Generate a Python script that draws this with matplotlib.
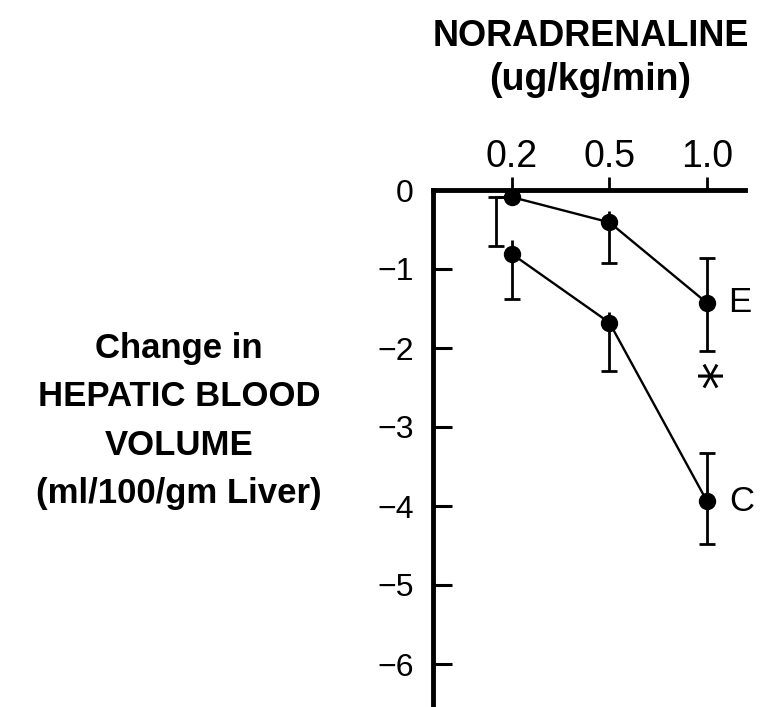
import matplotlib
matplotlib.use("Agg")
import matplotlib.pyplot as plt
import numpy as np

plt.rcParams['font.family'] = ['Liberation Sans', 'DejaVu Sans']

# ---- data ----
doses = ["0.2", "0.5", "1.0"]
y_ticks = [0, -1, -2, -3, -4, -5, -6]
y_tick_labels = ["0", "\u22121", "\u22122", "\u22123", "\u22124", "\u22125", "\u22126"]

E_mean = [-0.09, -0.41, -1.43]
E_err_low = [0.62, 0.51, 0.61]
E_err_up_capped = [0.0, 0.0, 0.57]
E_err_up_stub = [0.0, 0.15, 0.0]

C_mean = [-0.81, -1.68, -3.94]
C_err_low = [0.57, 0.61, 0.54]
C_err_up_capped = [0.0, 0.0, 0.61]
C_err_up_stub = [0.18, 0.14, 0.0]

# ---- figure ----
W, H = 767, 707
fig = plt.figure(figsize=(W / 100, H / 100), dpi=100)
left_px, right_px, top_px = 433, 745, 190
ax = fig.add_axes([left_px / W, 0.0, (right_px - left_px) / W, 1 - top_px / H])

x = np.arange(len(doses))
lw = 1.7
elw = 2.0
msize = 11.5
cap = 6

def draw_series(mean, low, upc, stub, first_offset=0.0):
    ax.plot(x, mean, color='black', lw=lw, zorder=2)
    xe = x.astype(float).copy()
    xe[0] += first_offset
    ax.errorbar(xe, mean, yerr=[low, upc], fmt='none', ecolor='black',
                elinewidth=elw, capsize=cap, capthick=elw, zorder=2)
    ax.errorbar(x, mean, yerr=[np.zeros(len(mean)), stub], fmt='none',
                ecolor='black', elinewidth=elw, capsize=0, zorder=2)
    if first_offset != 0.0:
        ax.plot([xe[0], x[0]], [mean[0], mean[0]], color='black', lw=elw, zorder=2)
    ax.plot(x, mean, 'o', color='black', ms=msize, zorder=3)

draw_series(E_mean, E_err_low, E_err_up_capped, E_err_up_stub, first_offset=-0.165)
draw_series(C_mean, C_err_low, C_err_up_capped, C_err_up_stub)

ax.annotate("E", (x[-1], E_mean[-1]), xytext=(15, 0), textcoords='offset points',
            fontsize=25, va='center', ha='left')
ax.annotate("C", (x[-1], C_mean[-1]), xytext=(16, 0), textcoords='offset points',
            fontsize=25, va='center', ha='left')
ax.annotate("*", (x[-1], E_mean[-1]), xytext=(12, -51), textcoords='offset points',
            fontsize=40, va='center', ha='center', family='DejaVu Sans',
            rotation=90, rotation_mode='anchor')

ax.set_xlim(-0.81, (right_px - 512) / 97.5)
ax.set_ylim(-(H - top_px) / 79.0, 0)

ax.xaxis.set_ticks_position('top')
ax.set_xticks(x)
ax.set_xticklabels(doses, fontsize=27)
ax.tick_params(axis='x', direction='out', length=9.5, width=2, pad=1.5)
ax.set_yticks(y_ticks)
ax.set_yticklabels(y_tick_labels, fontsize=23)
ax.tick_params(axis='y', direction='in', length=14, width=2.2, pad=14)

for s in ['right', 'bottom']:
    ax.spines[s].set_visible(False)
for s in ['left', 'top']:
    ax.spines[s].set_linewidth(3.5)

fig.text(591 / W, 1 - 36 / H, "NORADRENALINE", fontsize=26, fontweight='bold',
         ha='center', va='center')
fig.text(590 / W, 1 - 80 / H, "(ug/kg/min)", fontsize=27, fontweight='bold',
         ha='center', va='center')

fig.text(179 / W, 1 - 421 / H, "Change in\nHEPATIC BLOOD\nVOLUME\n(ml/100/gm Liver)",
         fontsize=25, fontweight='bold', ha='center', va='center', linespacing=1.6)

fig.savefig("out.png", dpi=100)
